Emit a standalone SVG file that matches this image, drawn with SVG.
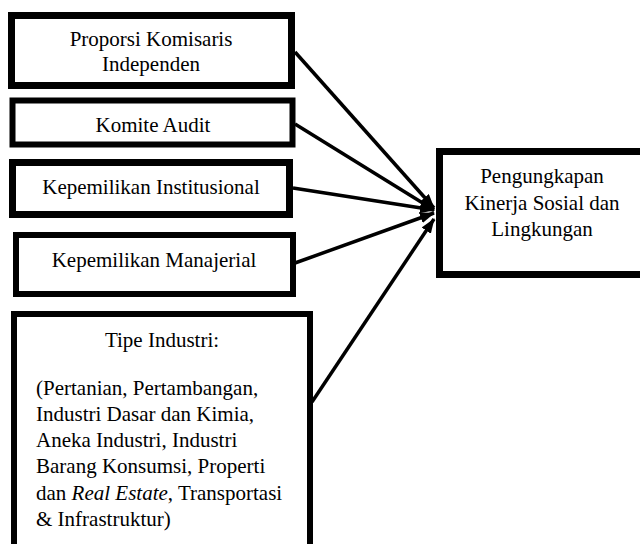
<svg xmlns="http://www.w3.org/2000/svg" width="640" height="544" viewBox="0 0 640 544">
<style>
.box{fill:#fff;stroke:#000;stroke-width:7}
.c{text-anchor:middle}
.arr{stroke:#000;stroke-width:3.5;fill:none;marker-end:url(#ah)}
</style>
<defs>
<marker id="ah" markerUnits="userSpaceOnUse" markerWidth="16" markerHeight="12" refX="14" refY="5.5" orient="auto">
<path d="M0,0 L15,5.5 L0,11 z" fill="#000"/>
</marker>
</defs>
<rect width="640" height="544" fill="#fff"/>
<g id="connectors">
<line class="arr" x1="295" y1="52" x2="434" y2="208"/>
<line class="arr" x1="295" y1="124" x2="434" y2="210"/>
<line class="arr" x1="293" y1="188" x2="434" y2="210"/>
<line class="arr" x1="295" y1="263" x2="434" y2="213"/>
<line class="arr" x1="312" y1="402" x2="434" y2="219"/>
</g>
<g font-family="Liberation Serif, Tinos, Times New Roman, DejaVu Serif, serif" font-size="21" fill="#000">
<g id="n1">
<rect class="box" x="11.5" y="15.5" width="280" height="70"/>
<text class="c" x="151" y="46">Proporsi Komisaris</text>
<text class="c" x="151" y="71">Independen</text>
</g>
<g id="n2">
<rect class="box" x="12.5" y="100.5" width="280" height="44" style="stroke-width:6"/>
<text class="c" x="153" y="132">Komite Audit</text>
</g>
<g id="n3">
<rect class="box" x="12.5" y="162.5" width="277" height="52"/>
<text class="c" x="151" y="194">Kepemilikan Institusional</text>
</g>
<g id="n4">
<rect class="box" x="16" y="235" width="277" height="59" style="stroke-width:6"/>
<text class="c" x="154" y="267">Kepemilikan Manajerial</text>
</g>
<g id="n5">
<rect class="box" x="14" y="314" width="296" height="245" style="stroke-width:6"/>
<text class="c" x="162" y="347">Tipe Industri:</text>
<text x="36" y="395">(Pertanian, Pertambangan,</text>
<text x="36" y="421">Industri Dasar dan Kimia,</text>
<text x="36" y="447">Aneka Industri, Industri</text>
<text x="36" y="473">Barang Konsumsi, Properti</text>
<text x="36" y="500">dan <tspan font-style="italic">Real Estate</tspan>, Transportasi</text>
<text x="36" y="526">&amp; Infrastruktur)</text>
</g>
<g id="target">
<rect class="box" x="439.5" y="151.5" width="220" height="123"/>
<text class="c" x="542" y="183">Pengungkapan</text>
<text class="c" x="542" y="210">Kinerja Sosial dan</text>
<text class="c" x="542" y="236">Lingkungan</text>
</g>
</g>
</svg>
